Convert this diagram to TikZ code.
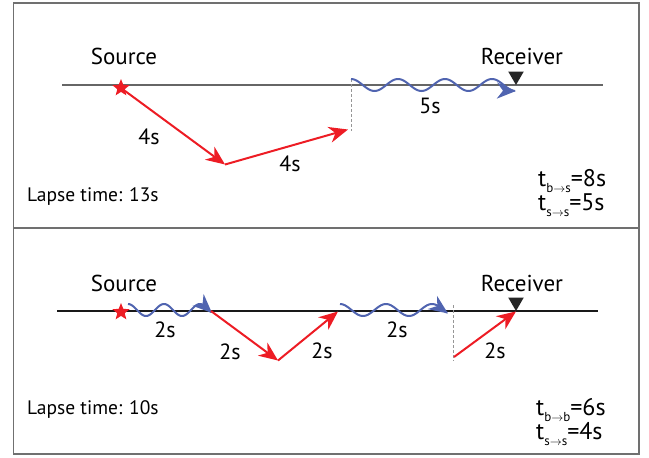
\documentclass[tikz,border=0pt]{standalone}
\usepackage{fontspec}
\setmainfont{PT Sans}
\usetikzlibrary{arrows.meta,shapes.geometric}
\definecolor{sred}{RGB}{237,28,36}
\definecolor{sblue}{RGB}{80,100,176}
\definecolor{sframe}{RGB}{112,112,112}
\definecolor{sgray}{RGB}{150,150,150}
\tikzset{
  framebox/.style={draw=sframe, line width=1.8pt},
  surface/.style={draw=#1, line width=1.2pt},
  redray/.style={draw=sred, line width=2pt, -{Stealth[length=19pt,width=16pt,inset=6pt]}},
  wave/.style={draw=sblue, line width=2pt, -{Stealth[length=19pt,width=16pt,inset=6pt]}},
  vdash/.style={draw=sgray, line width=1pt, dashed, dash pattern=on 3pt off 2pt},
  srcstar/.style={star, star points=5, star point ratio=2.3, fill=sred, draw=none, minimum size=18pt, inner sep=0pt},
  rcv/.style={regular polygon, regular polygon sides=3, shape border rotate=180, fill=black!85, draw=none, minimum size=18pt, inner sep=0pt},
  lbl/.style={font=\fontsize{23}{25}\selectfont, inner sep=0pt},
  tlbl/.style={font=\fontsize{22}{24}\selectfont, inner sep=0pt},
  lapse/.style={font=\fontsize{19.5}{21}\selectfont, inner sep=0pt, anchor=west},
  eqn/.style={font=\fontsize{24}{22}\selectfont, inner sep=0pt, anchor=west, align=left},
}
\newcommand{\subsm}[1]{\raisebox{-0.5ex}{\fontsize{13}{13}\selectfont #1}}
\begin{document}
\begin{tikzpicture}[x=1pt,y=-1pt]
\useasboundingbox (0,0) rectangle (649,458);
% frame
\draw[framebox] (13.5,3) rectangle (639,454);
\draw[framebox] (13.5,228) -- (639,228);

% ================= top panel =================
\coordinate (sL1) at (62,85);
\coordinate (sR1) at (603,85);
\draw[surface=black!60] (sL1) -- (sR1);
\node[srcstar] (star1) at (121,88) {};
\node[lbl] (srcA) at (124,56) {Source};
\node[rcv] (rcv1) at (516,76) {};
\node[lbl] (rcvA) at (522,56) {Receiver};
\coordinate (b1) at (225,164.5);
\coordinate (t1) at (348,129.5);
\coordinate (d1top) at (351,79);
\coordinate (d1bot) at (351,131);
\draw[redray] (star1.center) -- (b1);
\draw[redray] (b1) -- (t1);
\draw[vdash] (d1top) -- (d1bot);
\draw[wave] plot[domain=351:516, samples=120] (\x, {85-6*cos(7.659574*(\x-351))});
\node[tlbl] (l4a) at (149,137) {4s};
\node[tlbl] (l4b) at (290,164) {4s};
\node[tlbl] (l5) at (430,106) {5s};
\node[lapse] (lapse1) at (27,197) {Lapse time: 13s};
\node[eqn] (eqA) at (538,193) {t\subsm{b$\to$s}=8s\\t\subsm{s$\to$s}=5s};

% ================= bottom panel =================
\coordinate (sL2) at (57,311);
\coordinate (sR2) at (598,311);
\draw[surface=black!90] (sL2) -- (sR2);
\node[srcstar] (star2) at (121,312) {};
\node[lbl] (srcB) at (124,283) {Source};
\node[rcv] (rcv2) at (516,302) {};
\node[lbl] (rcvB) at (522,283) {Receiver};
\draw[wave] plot[domain=128:212, samples=100] (\x, {310-6*cos(10*(\x-128))});
\coordinate (a2) at (211,311);
\coordinate (b2) at (278,360.5);
\coordinate (t2) at (338,311.5);
\draw[redray] (a2) -- (b2);
\draw[redray] (b2) -- (t2);
\draw[wave] plot[domain=340:448, samples=100] (\x, {310-6*cos(7.826087*(\x-340))});
\coordinate (d2top) at (453,305);
\coordinate (d2bot) at (453,361);
\draw[vdash] (d2top) -- (d2bot);
\coordinate (c2) at (454,357);
\draw[redray] (c2) -- (rcv2.south);
\node[tlbl] (m1) at (165,330) {2s};
\node[tlbl] (m2) at (230,352) {2s};
\node[tlbl] (m3) at (322,351) {2s};
\node[tlbl] (m4) at (397,330) {2s};
\node[tlbl] (m5) at (495,351) {2s};
\node[lapse] (lapse2) at (27,410) {Lapse time: 10s};
\node[eqn] (eqB) at (536,422) {t\subsm{b$\to$b}=6s\\t\subsm{s$\to$s}=4s};
\end{tikzpicture}
\end{document}
